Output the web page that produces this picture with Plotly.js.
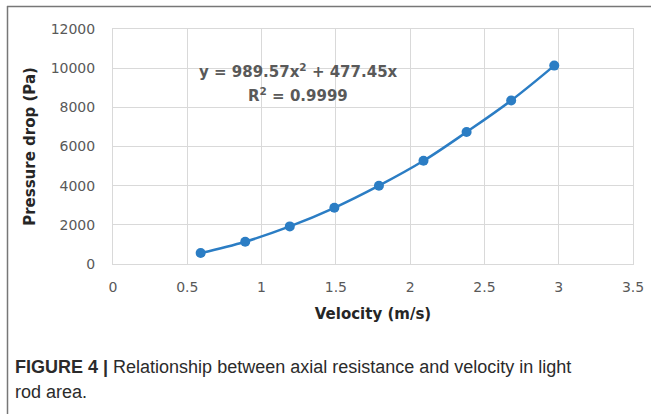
<!DOCTYPE html>
<html>
<head>
<meta charset="utf-8">
<script src="https://cdn.plot.ly/plotly-3.0.1.min.js"></script>
<style>
html,body{margin:0;padding:0;background:#fff;}
#chart{width:651px;height:414px;}
</style>
</head>
<body>
<div id="chart"></div>
<script>
// Data
const velocity = [0.59, 0.89, 1.19, 1.49, 1.79, 2.09, 2.38, 2.68, 2.97];
const pressureDrop = [560, 1140, 1920, 2870, 4000, 5270, 6740, 8350, 10130];
const xTicks = [0, 0.5, 1, 1.5, 2, 2.5, 3, 3.5];
const xTickLabels = ['0', '0.5', '1', '1.5', '2', '2.5', '3', '3.5'];
const yTicks = [0, 2000, 4000, 6000, 8000, 10000, 12000];
const yTickLabels = ['0', '2000', '4000', '6000', '8000', '10000', '12000'];
const equationText = 'y = 989.57x<sup>2</sup> + 477.45x';
const r2Text = 'R<sup>2</sup> = 0.9999';
const captionLine1 = '<b>FIGURE 4 |</b> Relationship between axial resistance and velocity in light';
const captionLine2 = 'rod area.';

const W = 651, H = 414;
const L = 113, R = 18, T = 29, B = 150;
const pw = W - L - R, ph = H - T - B;
const px = x => (x - L) / pw;
const py = y => (H - B - y) / ph;

const blue = '#2b7dc4';
const grid = '#d9d9d9';
const tickColor = '#595959';

const trace = {
  x: velocity,
  y: pressureDrop,
  type: 'scatter',
  mode: 'lines+markers',
  line: {color: blue, width: 2.5, shape: 'spline', smoothing: 1},
  marker: {color: blue, size: 10},
  showlegend: false,
  cliponaxis: false
};

const layout = {
  width: W, height: H,
  margin: {l: L, r: R, t: T, b: B, pad: 0},
  paper_bgcolor: '#fff',
  plot_bgcolor: '#fff',
  showlegend: false,
  xaxis: {
    range: [0, 3.5],
    tickvals: xTicks, ticktext: xTickLabels,
    showgrid: true, gridcolor: grid, gridwidth: 1,
    showline: true, linecolor: grid, linewidth: 1, mirror: true,
    zeroline: false, ticks: '',
    ticklabelstandoff: 10,
    tickfont: {family: 'DejaVu Sans', size: 14, color: tickColor},
    title: {text: '<b>Velocity (m/s)</b>', standoff: 14,
            font: {family: 'DejaVu Sans', size: 15, color: '#262626'}},
    automargin: false
  },
  yaxis: {
    range: [0, 12000],
    tickvals: yTicks, ticktext: yTickLabels,
    showgrid: true, gridcolor: grid, gridwidth: 1,
    showline: true, linecolor: grid, linewidth: 1, mirror: true,
    zeroline: false, ticks: '',
    ticklabelstandoff: 14,
    tickfont: {family: 'DejaVu Sans', size: 14, color: tickColor},
    title: {text: '<b>Pressure drop (Pa)</b>', standoff: 11,
            font: {family: 'DejaVu Sans', size: 15, color: '#262626'}},
    automargin: false
  },
  annotations: [
    {xref: 'paper', yref: 'paper', x: px(298), y: py(71), text: '<b>' + equationText + '</b>',
     showarrow: false, xanchor: 'center', yanchor: 'middle',
     font: {family: 'DejaVu Sans', size: 15, color: tickColor}},
    {xref: 'paper', yref: 'paper', x: px(298), y: py(95), text: '<b>' + r2Text + '</b>',
     showarrow: false, xanchor: 'center', yanchor: 'middle',
     font: {family: 'DejaVu Sans', size: 15, color: tickColor}},
    {xref: 'paper', yref: 'paper', x: px(13), y: py(367), text: captionLine1,
     showarrow: false, xanchor: 'left', yanchor: 'middle', align: 'left',
     font: {family: 'Liberation Sans', size: 18, color: '#2b2b2b'}},
    {xref: 'paper', yref: 'paper', x: px(13), y: py(392), text: captionLine2,
     showarrow: false, xanchor: 'left', yanchor: 'middle', align: 'left',
     font: {family: 'Liberation Sans', size: 18, color: '#2b2b2b'}}
  ],
  shapes: [
    {type: 'line', xref: 'paper', yref: 'paper', x0: px(7.5), x1: px(7.5), y0: py(6), y1: py(414),
     line: {color: '#777', width: 1.5}},
    {type: 'line', xref: 'paper', yref: 'paper', x0: px(7), x1: px(651), y0: py(6.5), y1: py(6.5),
     line: {color: '#777', width: 1.5}}
  ]
};

Plotly.newPlot('chart', [trace], layout, {displayModeBar: false, staticPlot: true});
</script>
</body>
</html>
